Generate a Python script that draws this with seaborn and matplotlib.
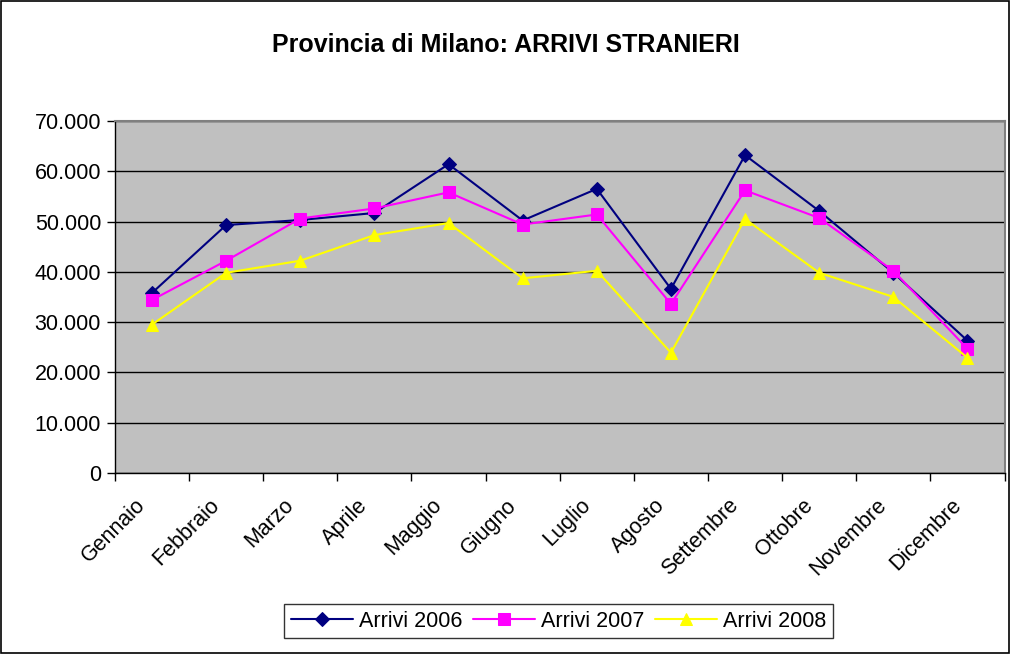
import numpy as np
import pandas as pd
import matplotlib
matplotlib.use('Agg')
import matplotlib.pyplot as plt
import seaborn as sns
from matplotlib.patches import Rectangle
from matplotlib.transforms import ScaledTranslation
from matplotlib.ticker import FuncFormatter, MultipleLocator, FixedLocator

# ========= Dati ==============
mesi = ['Gennaio', 'Febbraio', 'Marzo', 'Aprile', 'Maggio', 'Giugno',
        'Luglio', 'Agosto', 'Settembre', 'Ottobre', 'Novembre', 'Dicembre']

arrivi_2006 = [35800, 49300, 50300, 51700, 61400, 50200,
               56500, 36600, 63200, 52100, 39800, 26300]
arrivi_2007 = [34400, 42200, 50600, 52600, 55800, 49400,
               51400, 33600, 56200, 50700, 40200, 24700]
arrivi_2008 = [29500, 39800, 42200, 47300, 49700, 38700,
               40200, 23900, 50500, 39800, 35000, 22900]

serie = ['Arrivi 2006', 'Arrivi 2007', 'Arrivi 2008']
valori = [arrivi_2006, arrivi_2007, arrivi_2008]
colori = ['#000080', '#FF00FF', '#FFFF00']
marker = ['D', 's', '^']
dim_marker = [7, 8, 9]

sns.set_style('white')
plt.rcParams['font.family'] = ['Liberation Sans', 'DejaVu Sans']
plt.rcParams['text.color'] = 'black'
plt.rcParams['xtick.color'] = 'black'
plt.rcParams['ytick.color'] = 'black'
plt.rcParams['axes.labelcolor'] = 'black'

fig = plt.figure(figsize=(10.12, 6.54), dpi=100)
ax = fig.add_axes([0.1136, 0.277, 0.879, 0.538])

pos = np.arange(len(mesi))
for nome, v, c, m, ms in zip(serie, valori, colori, marker, dim_marker):
    sns.lineplot(x=pos, y=v, ax=ax, color=c, marker=m, markersize=ms,
                 markeredgecolor=c, linewidth=1.5, label=nome)

ax.set_facecolor('#C0C0C0')
ax.set_ylim(0, 70000)
ax.set_xlim(-0.5, len(mesi) - 0.5)
ax.yaxis.set_major_locator(MultipleLocator(10000))
ax.yaxis.set_major_formatter(FuncFormatter(lambda y, _: f'{int(y):,}'.replace(',', '.')))
ax.grid(axis='y', color='black', linewidth=1)
ax.set_axisbelow(True)

# tick sui confini delle categorie, etichette al centro
ax.xaxis.set_major_locator(FixedLocator(np.arange(-0.5, len(mesi), 1.0)))
ax.xaxis.set_major_formatter(FuncFormatter(lambda x, _: ''))
ax.xaxis.set_minor_locator(FixedLocator(pos))
ax.set_xticklabels(mesi, minor=True, rotation=45, ha='right', rotation_mode='anchor')
ax.tick_params(axis='x', which='minor', length=0, pad=10, labelsize=15.5)
ax.tick_params(axis='x', which='major', length=6, width=1, direction='out', color='black')
ax.tick_params(axis='y', length=6, width=1, direction='out', color='black', labelsize=15.5, pad=4)
ax.xaxis.set_ticks_position('bottom')
ax.yaxis.set_ticks_position('left')

# sposta le etichette dei mesi come in Excel
offset = ScaledTranslation(-0.17, -0.08, fig.dpi_scale_trans)
for lab in ax.xaxis.get_minorticklabels():
    lab.set_transform(lab.get_transform() + offset)

for s in ['left', 'bottom']:
    ax.spines[s].set_color('black')
    ax.spines[s].set_linewidth(1)
for s in ['top', 'right']:
    ax.spines[s].set_color('#808080')
    ax.spines[s].set_linewidth(1.5)

ax.set_xlabel('')
ax.set_ylabel('')

fig.text(0.5, 0.931, 'Provincia di Milano: ARRIVI STRANIERI', ha='center', va='center',
         fontsize=18, fontweight='bold')

leg = ax.legend(loc='lower center', bbox_to_anchor=(0.552, 0.008), bbox_transform=fig.transFigure,
                ncol=3, frameon=True, fancybox=False, fontsize=15.5, handlelength=2.9,
                handletextpad=0.3, columnspacing=0.45, borderpad=0.3, edgecolor='black')
leg.get_frame().set_linewidth(1)

fig.patches.append(Rectangle((0.001, 0.001), 0.996, 0.997, transform=fig.transFigure,
                             fill=False, edgecolor='black', linewidth=1.2))

fig.savefig('out.png', dpi=100, facecolor='white')
